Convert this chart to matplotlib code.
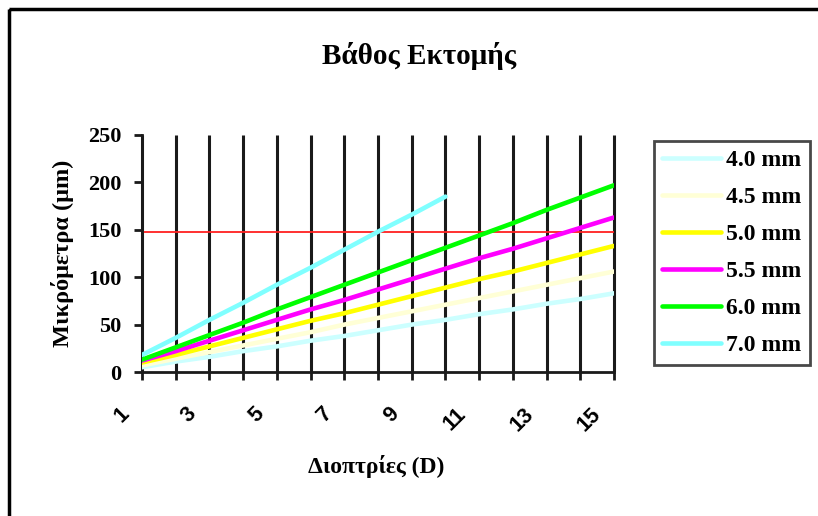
import matplotlib.pyplot as plt
from matplotlib.patches import Rectangle
from matplotlib.transforms import ScaledTranslation

# diopters and ablation depth (um) per optical zone
diopters = list(range(1, 16))
depth_40 = [5, 11, 16, 22, 27, 33, 38, 44, 50, 55, 61, 66, 72, 77, 83]
depth_45 = [7, 14, 21, 28, 35, 42, 50, 57, 64, 71, 78, 85, 92, 99, 106]
depth_50 = [10, 18, 27, 36, 45, 54, 62, 71, 80, 89, 98, 106, 115, 124, 133]
depth_55 = [12, 22, 33, 44, 55, 66, 76, 87, 98, 109, 120, 130, 141, 152, 163]
depth_60 = [13, 26, 39, 52, 66, 79, 92, 105, 118, 131, 144, 157, 171, 184, 197]
depth_70 = [18, 36, 55, 73, 92, 110, 129, 148, 166, 185]
limit = 148

labels = ["4.0 mm", "4.5 mm", "5.0 mm", "5.5 mm", "6.0 mm", "7.0 mm"]
colors = ["#CCFFFF", "#FFFFD6", "#FFFF00", "#FF00FF", "#00FF00", "#80FFFF"]

serif = "Liberation Serif"
sans = "Liberation Sans"
W, H = 818, 516


def main():
    fig = plt.figure(figsize=(W / 100, H / 100), dpi=100)
    ax = fig.add_axes([142 / W, 1 - 372 / H, 472 / W, 237 / H])

    # outer chart frame (only top and left edges visible)
    fig.patches.append(Rectangle((9 / W, 1 - 9 / H), 2, -2, transform=fig.transFigure,
                                 fill=False, edgecolor="black", linewidth=2.5))

    ax.vlines(diopters, 0, 250, color="#1a1a1a", linewidth=2.2, clip_on=False, zorder=1)
    ax.axhline(limit, color="#FF2020", linewidth=1.3, zorder=2)

    series = [depth_40, depth_45, depth_50, depth_55, depth_60, depth_70]
    for vals, lab, col in zip(series, labels, colors):
        ax.plot(diopters[:len(vals)], vals, color=col, linewidth=3.3, label=lab,
                solid_capstyle="round", zorder=3)

    ax.set_xlim(1, 15)
    ax.set_ylim(0, 250)
    ax.set_yticks(range(0, 251, 50))
    ax.set_xticks(diopters)
    ax.set_xticklabels([str(d) if d % 2 == 1 else "" for d in diopters])

    for side in ["top", "right"]:
        ax.spines[side].set_visible(False)
    for side in ["left", "bottom"]:
        ax.spines[side].set_linewidth(2)
        ax.spines[side].set_color("#1a1a1a")

    ax.tick_params(axis="both", direction="out", length=6, width=2, color="#1a1a1a")
    ax.tick_params(axis="x", pad=22)
    ax.tick_params(axis="y", pad=9)
    for t in ax.get_yticklabels():
        t.set_fontfamily(serif)
        t.set_fontweight("bold")
        t.set_fontsize(16)
    shift = ScaledTranslation(-16 / 100, 0, fig.dpi_scale_trans)
    for t in ax.get_xticklabels():
        t.set_fontfamily(sans)
        t.set_fontweight("bold")
        t.set_fontsize(15.5)
        t.set_rotation(45)
        t.set_ha("right")
        t.set_va("center")
        t.set_rotation_mode("anchor")
        t.set_transform(t.get_transform() + shift)

    fig.text(62 / W, 1 - 253 / H, "Μικρόμετρα (μm)", rotation=90, ha="center", va="center",
             fontfamily=serif, fontweight="bold", fontsize=17.5)
    fig.text(376 / W, 1 - 466 / H, "Διοπτρίες (D)", ha="center", va="center",
             fontfamily=serif, fontweight="bold", fontsize=17)
    fig.text(419 / W, 1 - 56 / H, "Βάθος Εκτομής", ha="center", va="center",
             fontfamily=serif, fontweight="bold", fontsize=21)

    leg = ax.legend(loc="upper left", bbox_to_anchor=(654 / W, 1 - 141 / H),
                    bbox_transform=fig.transFigure, frameon=True, fancybox=False,
                    handlelength=2.5, handletextpad=0.2, labelspacing=0.66,
                    borderpad=0.35, borderaxespad=0,
                    prop={"family": serif, "weight": "bold", "size": 17})
    leg.get_frame().set_edgecolor("#1a1a1a")
    leg.get_frame().set_linewidth(2)

    fig.savefig("out.png", dpi=100)


if __name__ == "__main__":
    main()
